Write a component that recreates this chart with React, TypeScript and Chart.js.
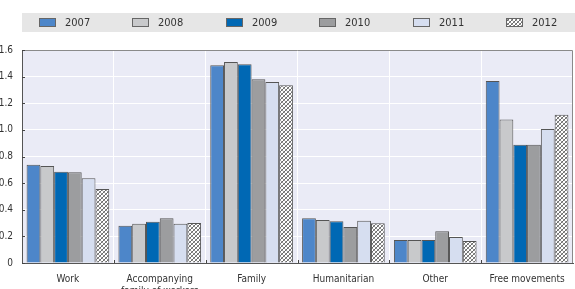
import React, { useEffect, useRef } from "react";
import { Chart, registerables } from "chart.js";

Chart.register(...registerables);

const categories: (string | string[])[] = [
  "Work",
  ["Accompanying", "family of workers"],
  "Family",
  "Humanitarian",
  "Other",
  "Free movements",
];

const years = ["2007", "2008", "2009", "2010", "2011", "2012"];

const v2007 = [0.738, 0.28, 1.485, 0.336, 0.173, 1.367];
const v2008 = [0.729, 0.295, 1.51, 0.323, 0.173, 1.077];
const v2009 = [0.686, 0.31, 1.493, 0.313, 0.173, 0.889];
const v2010 = [0.681, 0.336, 1.38, 0.27, 0.238, 0.889];
const v2011 = [0.636, 0.295, 1.36, 0.318, 0.195, 1.007];
const v2012 = [0.556, 0.3, 1.335, 0.298, 0.165, 1.114];

const yTicks = [0, 0.2, 0.4, 0.6, 0.8, 1.0, 1.2, 1.4, 1.6];

const FONT = "'Liberation Sans Narrow', 'DejaVu Sans Condensed', 'Arial Narrow', sans-serif";

function makeHatch(): CanvasPattern | string {
  const c = document.createElement("canvas");
  c.width = 4;
  c.height = 4;
  const g = c.getContext("2d");
  if (!g) return "#ccc";
  g.fillStyle = "#ffffff";
  g.fillRect(0, 0, 4, 4);
  g.strokeStyle = "#6a6a6a";
  g.lineWidth = 1;
  g.beginPath();
  g.moveTo(0, 4);
  g.lineTo(4, 0);
  g.moveTo(-1, 1);
  g.lineTo(1, -1);
  g.moveTo(3, 5);
  g.lineTo(5, 3);
  g.stroke();
  g.strokeStyle = "#9a9a9a";
  g.beginPath();
  g.moveTo(0, 0);
  g.lineTo(4, 4);
  g.stroke();
  const p = g.createPattern(c, "repeat");
  return p || "#ccc";
}

export default function App() {
  const ref = useRef<HTMLCanvasElement | null>(null);

  useEffect(() => {
    if (!ref.current) return;
    const hatch = makeHatch();
    const fills: (string | CanvasPattern)[] = [
      "#4d86c9",
      "#c8c9cb",
      "#0068b4",
      "#9c9d9f",
      "#d6def0",
      hatch,
    ];
    const series = [v2007, v2008, v2009, v2010, v2011, v2012];

    const decor = {
      id: "decor",
      beforeDraw(chart: any) {
        const { ctx, chartArea: a } = chart;
        ctx.save();
        // legend strip
        ctx.fillStyle = "#e6e6e6";
        ctx.fillRect(22, 13, 553, 19);
        ctx.font = `11px ${FONT}`;
        ctx.textBaseline = "middle";
        ctx.textAlign = "left";
        years.forEach((y, i) => {
          const x = Math.round(38.5 + i * 93.5);
          ctx.fillStyle = fills[i];
          ctx.fillRect(x, 18, 17, 9);
          ctx.strokeStyle = "#666";
          ctx.lineWidth = 1;
          ctx.strokeRect(x + 0.5, 18.5, 16, 8);
          ctx.fillStyle = "#333";
          ctx.fillText(y, x + 26, 23);
        });
        // plot background
        ctx.fillStyle = "#eaebf6";
        ctx.fillRect(a.left, a.top, a.right - a.left, a.bottom - a.top);
        ctx.restore();
      },
      afterDatasetsDraw(chart: any) {
        const { ctx, chartArea: a, scales } = chart;
        ctx.save();
        ctx.strokeStyle = "#8a8a8a";
        ctx.lineWidth = 1;
        ctx.beginPath();
        ctx.moveTo(a.left, a.top + 0.5);
        ctx.lineTo(a.right - 0.5, a.top + 0.5);
        ctx.lineTo(a.right - 0.5, a.bottom);
        ctx.stroke();
        ctx.strokeStyle = "#444";
        ctx.beginPath();
        yTicks.forEach((t) => {
          const yy = Math.round(scales.y.getPixelForValue(t)) + 0.5;
          ctx.moveTo(a.left, yy);
          ctx.lineTo(a.left + 3, yy);
        });
        const n = categories.length;
        for (let i = 1; i < n; i++) {
          const xx = Math.round(a.left + ((a.right - a.left) * i) / n) + 0.5;
          ctx.moveTo(xx, a.bottom);
          ctx.lineTo(xx, a.bottom - 3);
        }
        ctx.stroke();
        ctx.restore();
      },
    };

    const chart = new Chart(ref.current, {
      type: "bar",
      data: {
        labels: categories,
        datasets: series.map((d, i) => ({
          label: years[i],
          data: d,
          backgroundColor: fills[i] as any,
          borderColor: "#555",
          borderWidth: 1,
          categoryPercentage: 0.9,
          barPercentage: 1.0,
        })),
      },
      options: {
        animation: false,
        responsive: false,
        maintainAspectRatio: false,
        layout: { padding: { top: 50, right: 2, left: 0, bottom: 0 } },
        plugins: {
          legend: { display: false },
          tooltip: { enabled: false },
        },
        scales: {
          x: {
            grid: { color: "#ffffff", lineWidth: 1, drawTicks: false, offset: true },
            border: { display: true, color: "#555", width: 1 },
            ticks: {
              color: "#333",
              font: { family: FONT, size: 10, lineHeight: 1.2 },
              padding: 10,
              maxRotation: 0,
              autoSkip: false,
            },
            afterFit(s: any) {
              s.height = 26;
            },
          },
          y: {
            min: 0,
            max: 1.6,
            afterBuildTicks(s: any) {
              s.ticks = yTicks.map((v) => ({ value: v }));
            },
            grid: { color: "#ffffff", lineWidth: 1, drawTicks: false },
            border: { display: true, color: "#555", width: 1 },
            ticks: {
              color: "#333",
              font: { family: FONT, size: 10 },
              padding: 9,
              callback: (v: any) => (Number(v) === 0 ? "0" : Number(v).toFixed(1)),
            },
            afterFit(s: any) {
              s.width = 22;
            },
          },
        },
      },
      plugins: [decor],
    });
    return () => chart.destroy();
  }, []);

  return (
    <div style={{ position: "absolute", left: 0, top: 0, width: 575, height: 289, background: "#fff" }}>
      <canvas ref={ref} width={575} height={289} style={{ display: "block" }} />
    </div>
  );
}
